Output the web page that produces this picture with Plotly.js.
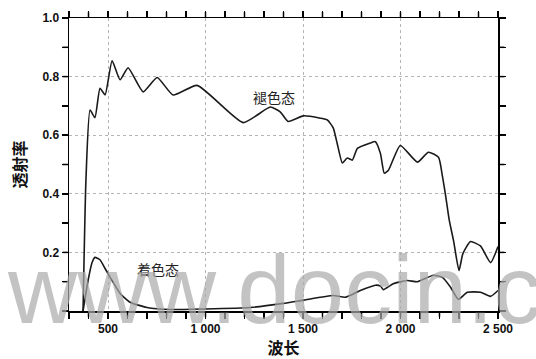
<!DOCTYPE html>
<html>
<head>
<meta charset="utf-8">
<script src="https://cdn.plot.ly/plotly-3.0.1.min.js"></script>
<style>html,body{margin:0;padding:0;background:#fff;}#chart{width:536px;height:359px;}</style>
</head>
<body>
<div id="chart"></div>
<script>
// Bleached state (褪色态)
var bleachedWavelength = [372, 387, 408, 433, 459, 485, 521, 562, 603, 680, 752, 834, 957, 1193, 1332, 1383, 1424, 1501, 1589, 1625, 1655, 1676, 1702, 1727, 1753, 1779, 1845, 1871, 1897, 1917, 1938, 1999, 2087, 2143, 2195, 2215, 2230, 2250, 2272, 2300, 2320, 2359, 2410, 2462, 2500];
var bleachedT = [0.0, 0.45, 0.686, 0.66, 0.76, 0.738, 0.854, 0.789, 0.83, 0.748, 0.797, 0.737, 0.77, 0.643, 0.696, 0.68, 0.647, 0.666, 0.658, 0.652, 0.625, 0.57, 0.505, 0.522, 0.515, 0.555, 0.573, 0.578, 0.538, 0.47, 0.48, 0.565, 0.508, 0.542, 0.525, 0.46, 0.40, 0.31, 0.24, 0.138, 0.196, 0.237, 0.222, 0.165, 0.22];

// Colored state (着色态)
var coloredWavelength = [372, 398, 418, 433, 459, 485, 511, 562, 613, 700, 819, 998, 1229, 1399, 1501, 1655, 1717, 1794, 1871, 1897, 1912, 1963, 2035, 2087, 2169, 2215, 2256, 2297, 2343, 2410, 2462, 2500];
var coloredT = [0.0, 0.105, 0.165, 0.183, 0.175, 0.145, 0.115, 0.06, 0.03, 0.012, 0.005, 0.007, 0.012, 0.026, 0.037, 0.053, 0.047, 0.07, 0.088, 0.085, 0.073, 0.093, 0.104, 0.10, 0.122, 0.115, 0.082, 0.04, 0.064, 0.064, 0.05, 0.07];

var xTickVals = [500, 1000, 1500, 2000, 2500];
var xTickText = ["500", "1 000", "1 500", "2 000", "2 500"];
var yTickVals = [0.2, 0.4, 0.6, 0.8, 1.0];
var yTickText = ["0.2", "0.4", "0.6", "0.8", "1.0"];

var seriesNames = ["褪色态", "着色态"];
var xTitle = "波长";
var yTitle = "透射率";
var watermark = "www.docin.c";

var xRange = [300, 2500];
var yRange = [0, 1.0];

var lineStyle = {color: "#1a1a1a", width: 1.6, shape: "spline", smoothing: 0.5};

var traces = [
  {x: bleachedWavelength, y: bleachedT, mode: "lines", name: seriesNames[0], line: lineStyle},
  {x: coloredWavelength, y: coloredT, mode: "lines", name: seriesNames[1], line: lineStyle}
];

// Tick marks on all four sides (every 100 nm and every 0.1), drawn through the axes' own scales
var tickShapes = [];
var tickLine = {color: "#000", width: 1.5};
for (var w = xRange[0]; w <= xRange[1]; w += 100) {
  tickShapes.push({type: "line", xref: "x", yref: "paper", x0: w, x1: w, y0: 0, y1: -0.02, line: tickLine, layer: "above"});
  tickShapes.push({type: "line", xref: "x", yref: "paper", x0: w, x1: w, y0: 1, y1: 1.02, line: tickLine, layer: "above"});
}
for (var k = 0; k <= 10; k++) {
  var t = k / 10;
  tickShapes.push({type: "line", xref: "paper", yref: "y", x0: 0, x1: -0.015, y0: t, y1: t, line: tickLine, layer: "above"});
  tickShapes.push({type: "line", xref: "paper", yref: "y", x0: 1, x1: 1.015, y0: t, y1: t, line: tickLine, layer: "above"});
}

var tickFont = {family: "Liberation Sans, Arial, sans-serif", size: 12, color: "#111", weight: "bold"};
var cjkFont = {family: "Noto Sans CJK SC, sans-serif", size: 16, color: "#111", weight: "bold"};

var layout = {
  width: 536, height: 359,
  margin: {l: 69, r: 38, t: 18, b: 48},
  paper_bgcolor: "#fff", plot_bgcolor: "#fff",
  showlegend: false,
  xaxis: {
    range: xRange,
    tickvals: xTickVals, ticktext: xTickText,
    ticks: "outside", ticklen: 6, tickwidth: 1.5, tickcolor: "#000",
    minor: {dtick: 100, ticks: "outside", ticklen: 6, tickwidth: 1.5, tickcolor: "#000", showgrid: false},
    showline: true, linecolor: "#000", linewidth: 1.5, mirror: "ticks",
    showgrid: true, gridcolor: "#b5b5b5", gridwidth: 1, griddash: "dot",
    zeroline: false,
    tickfont: tickFont,
    title: {text: xTitle, font: cjkFont, standoff: 6}
  },
  yaxis: {
    range: yRange,
    tickvals: yTickVals, ticktext: yTickText,
    ticks: "outside", ticklen: 6, tickwidth: 1.5, tickcolor: "#000",
    minor: {dtick: 0.1, ticks: "outside", ticklen: 6, tickwidth: 1.5, tickcolor: "#000", showgrid: false},
    showline: true, linecolor: "#000", linewidth: 1.5, mirror: "ticks",
    showgrid: true, gridcolor: "#b5b5b5", gridwidth: 1, griddash: "dot",
    zeroline: false,
    tickfont: tickFont,
    title: {text: yTitle, font: cjkFont, standoff: 12}
  },
  shapes: tickShapes,
  annotations: [
    {text: seriesNames[0], xref: "paper", yref: "paper", x: 0.478, y: 0.73,
     xanchor: "center", yanchor: "middle", showarrow: false,
     font: {family: "Noto Sans CJK SC, sans-serif", size: 14, color: "#222"}},
    {text: seriesNames[1], xref: "paper", yref: "paper", x: 0.208, y: 0.145,
     xanchor: "center", yanchor: "middle", showarrow: false,
     font: {family: "Noto Sans CJK SC, sans-serif", size: 14, color: "#222"}},
    {text: watermark, xref: "paper", yref: "paper", x: -0.15, y: 0.075, xanchor: "left", yanchor: "middle",
     showarrow: false, font: {family: "Liberation Sans, Arial, sans-serif", size: 96, color: "rgba(170,170,170,0.7)"}}
  ]
};

Plotly.newPlot("chart", traces, layout, {staticPlot: true});
</script>
</body>
</html>
